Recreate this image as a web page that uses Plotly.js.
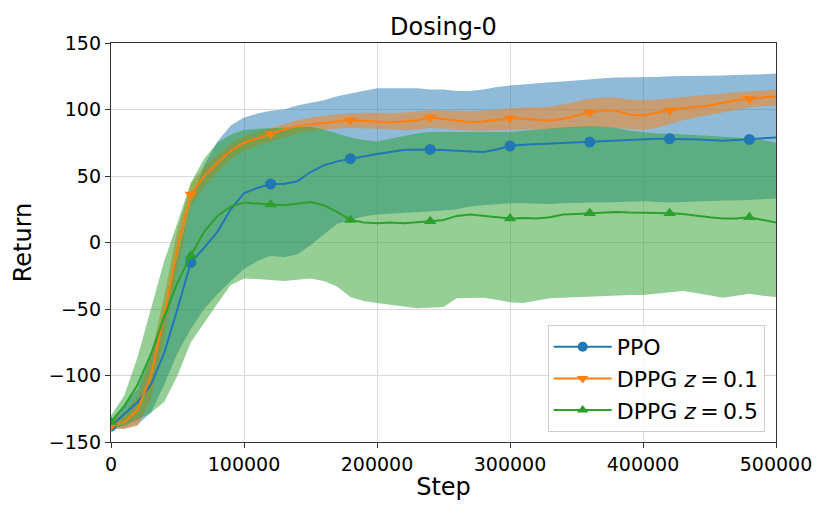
<!DOCTYPE html>
<html>
<head>
<meta charset="utf-8">
<script src="https://cdn.plot.ly/plotly-3.0.1.min.js"></script>
<style>html,body{margin:0;padding:0;background:#fff;}#chart{width:830px;height:519px;}</style>
</head>
<body>
<div id="chart"></div>
<script>
// Steps (every 10000)
const steps = [0,10000,20000,30000,40000,50000,60000,70000,80000,90000,100000,110000,120000,130000,140000,150000,160000,170000,180000,190000,200000,210000,220000,230000,240000,250000,260000,270000,280000,290000,300000,310000,320000,330000,340000,350000,360000,370000,380000,390000,400000,410000,420000,430000,440000,450000,460000,470000,480000,490000,500000];

// PPO
const ppoMean = [-138,-129,-120,-107,-83,-50,-15,-4,8,25,37,41,44,44,46,53,58,61,63,65,66.5,68,69.5,70,70,69.5,69,68.5,68,70,72.5,73.5,74,74.5,75,75,75.5,76,76.5,77,77.5,78,78,78,77.5,77,76.5,77,77.5,78.5,79];
const ppoUpper = [-133,-122,-110,-85,-50,-10,30,58,76,88,94,97,99,100,103,105,107,110,112,114,116,116,116,116,115,115,114,114,115,117,118,119,120,120.5,121,122,123,123.5,124,124,124.5,124.5,125,125,125,125.5,125.5,126,126,126.5,127];
const ppoLower = [-140,-140,-137,-128,-107,-83,-65,-50,-39,-29,-20,-14,-10,-11,-9,-2,6,14,17,19.5,21,21.5,22,22.5,23,24,25,27,28,29,29.5,29.5,29,29,29.5,30,30,30,30.5,30.5,31,30.5,30,30.5,31,31,31.5,31.5,32,32,33];

// DPPG z = 0.1
const d01Mean = [-138,-135,-126,-100,-55,-4,36,50,60,69,75,78,81.5,85,87.5,89,90,91,92,91.5,91,90.5,91,92,94,93,91.5,90.5,91,92.5,93.5,93,92,91.5,93,95.5,98,99,99,96,95.5,97.5,99.5,101,102,103,105,107,108,109,110];
const d01Upper = [-134,-128,-116,-85,-40,10,44,57,66,74,80,83,86,89,92,94,95.5,96.5,97,97.5,97.5,97,97.5,98.5,99.5,99.5,99,98.5,99,100,101,101.5,101.5,102,104,106,108,109,109,107.5,107,107.5,108.5,109.5,110.5,111,112,113,113.5,114,115];
const d01Lower = [-140,-140,-138,-118,-72,-20,27,42,53,63,69,73,76,79,82,84,85,85.5,86,86,85.5,85,84.5,85,86,85.5,84.5,84,84,84.5,85,85,85,85.5,86,86.5,87,87,86,85,84.5,86,89,92,94,96,98,100,101.5,102.5,103];

// DPPG z = 0.5
const d05Mean = [-135,-123,-107,-84,-56,-30,-10,8,20,27,30,29,28.5,28,29,30.5,28,23,17,15,14.5,15,14.5,15,16,17,20,21,20,19,18,18.5,18,19,21,21.5,22,23,23,22.5,22.5,22,22,21.5,20,19,18,18,19,17,15];
const d05Upper = [-130,-115,-86,-49,-14,15,45,63,75,81,84.5,85.5,86,86.5,87,87,85,82,79,77,76,78,80,82,83,83,83,83,82.5,83,83,84,85,86,86.5,87,87.5,87,86,84,83,82,82,81.5,81,80,79.5,79,78,77,75];
const d05Lower = [-140,-138,-133,-128,-120,-100,-75,-60,-46,-32,-27,-27.5,-28.5,-29,-28,-27,-29,-33,-41,-44,-45.5,-47,-48.5,-49.5,-49,-48.5,-42,-41.5,-41.5,-43,-45,-45.5,-44,-42,-41.5,-41,-40.5,-40,-39.5,-39.5,-39.5,-38.5,-37,-36.5,-38,-40,-41.5,-40,-38.5,-40,-41];

const seriesNames = ['PPO', 'DPPG <i>z</i>\u2009=\u20090.1', 'DPPG <i>z</i>\u2009=\u20090.5'];
const markEvery = 6;

const colors = ['#1f77b4', '#ff7f0e', '#2ca02c'];
const fills = ['rgba(31,119,180,0.5)', 'rgba(255,127,14,0.5)', 'rgba(44,160,44,0.5)'];
const symbols = ['circle', 'triangle-down', 'triangle-up'];
const means = [ppoMean, d01Mean, d05Mean];
const uppers = [ppoUpper, d01Upper, d05Upper];
const lowers = [ppoLower, d01Lower, d05Lower];

const traces = [];
for (let k = 0; k < 3; k++) {
  traces.push({x: steps, y: lowers[k], type: 'scatter', mode: 'lines', line: {width: 0, color: fills[k]}, showlegend: false, hoverinfo: 'skip'});
  traces.push({x: steps, y: uppers[k], type: 'scatter', mode: 'lines', line: {width: 0, color: fills[k]}, fill: 'tonexty', fillcolor: fills[k], showlegend: false, hoverinfo: 'skip'});
}
for (let k = 0; k < 3; k++) {
  traces.push({x: steps, y: means[k], type: 'scatter', mode: 'lines', line: {width: 2, color: colors[k]}, showlegend: false});
  const mx = steps.filter((_, i) => i % markEvery === 0);
  const my = means[k].filter((_, i) => i % markEvery === 0);
  traces.push({x: mx, y: my, type: 'scatter', mode: 'markers', marker: {symbol: symbols[k], size: 11, color: colors[k]}, showlegend: false});
}
for (let k = 0; k < 3; k++) {
  traces.push({x: [null], y: [null], type: 'scatter', mode: 'lines+markers', name: seriesNames[k], legendgroup: 'g' + k,
    line: {width: 2, color: colors[k]}, marker: {symbol: symbols[k], size: 10, color: colors[k]}});
}

const layout = {
  width: 830, height: 519,
  margin: {l: 111, r: 54, t: 43, b: 77},
  paper_bgcolor: '#fff', plot_bgcolor: '#fff',
  font: {family: 'DejaVu Sans, sans-serif', color: '#000', size: 19},
  title: {text: 'Dosing-0', font: {size: 24, color: '#000'}, x: 0.5343, xanchor: 'center', y: 0.948, yanchor: 'middle'},
  xaxis: {
    range: [0, 500000], dtick: 100000, tick0: 0, tickformat: 'd', automargin: false,
    showline: true, linecolor: '#333', linewidth: 1.2, mirror: true,
    ticks: 'outside', ticklen: 5, tickcolor: '#333',
    showgrid: true, gridcolor: '#d9d9d9', gridwidth: 1, zeroline: false,
    tickfont: {size: 19},
    title: {text: 'Step', font: {size: 24}, standoff: 4}
  },
  yaxis: {
    range: [-150, 150], dtick: 50, tick0: 0, automargin: false,
    showline: true, linecolor: '#333', linewidth: 1.2, mirror: true,
    ticks: 'outside', ticklen: 5, tickcolor: '#333',
    showgrid: true, gridcolor: '#d9d9d9', gridwidth: 1, zeroline: false,
    tickfont: {size: 19},
    title: {text: 'Return', font: {size: 24}, standoff: 10}
  },
  legend: {
    x: 0.983, y: 0.025, xanchor: 'right', yanchor: 'bottom', traceorder: 'normal',
    bgcolor: 'rgba(255,255,255,0.8)', bordercolor: '#cccccc', borderwidth: 1,
    font: {size: 22}, tracegroupgap: 6, itemwidth: 58
  },
  showlegend: true
};

Plotly.newPlot('chart', traces, layout, {displayModeBar: false, staticPlot: true});
</script>
</body>
</html>
